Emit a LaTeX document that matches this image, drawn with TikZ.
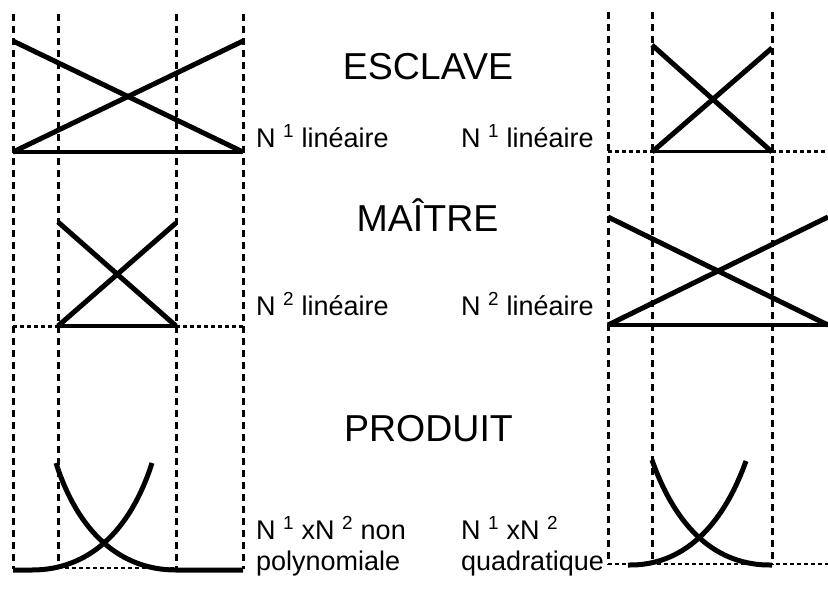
\documentclass[tikz,border=0pt]{standalone}
\usepackage{fontspec}
\setmainfont{Liberation Sans}
\begin{document}
\begin{tikzpicture}[x=1pt,y=-1pt,
  guide/.style={line width=3pt,dash pattern=on 7pt off 5pt},
  dotline/.style={line width=2.4pt,dash pattern=on 4pt off 3pt},
  thickline/.style={line width=5pt},
  baseline/.style={line width=3.5pt},
  big/.style={font=\fontsize{37.5}{40}\selectfont,inner sep=0pt},
  small/.style={font=\fontsize{27}{31}\selectfont,inner sep=0pt,anchor=base west,align=left}]
\useasboundingbox (0,0) rectangle (828,606);
% left guides
\foreach \x in {13,58,176,243} \draw[guide] (\x,14) -- (\x,569);
% right guides
\foreach \x in {608,652,772} \draw[guide] (\x,12) -- (\x,565);
% top-left X
\draw[thickline] (13,41) -- (243,152);
\draw[thickline] (13,152) -- (243,41);
\draw[baseline] (13,152) -- (243,152);
% middle-left X
\draw[thickline] (58,222) -- (176,326);
\draw[thickline] (58,326) -- (176,223);
\draw[baseline] (58,326) -- (176,326);
\draw[dotline] (13,326.5) -- (58,326.5);
\draw[dotline] (176,326.5) -- (243,326.5);
% bottom-left curves
\draw[dotline] (58,568) -- (176,568);
\draw[thickline] (56,463) .. controls (78,532) and (120,570) .. (176,570) -- (243,570);
\draw[thickline] (152,463) .. controls (130,532) and (88,570) .. (32,570) -- (13,570);
% top-right X
\draw[thickline] (652,45) -- (772,152);
\draw[thickline] (652,152) -- (772,48);
\draw[baseline] (652,151.5) -- (772,151.5);
\draw[dotline] (608,151.5) -- (652,151.5);
\draw[dotline] (772,151.5) -- (828,151.5);
% middle-right X
\draw[thickline] (608,217) -- (828,325);
\draw[thickline] (608,325) -- (828,217);
\draw[baseline] (608,325) -- (828,325);
% bottom-right curves
\draw[dotline] (608,564) -- (828,564);
\draw[thickline] (652,460) .. controls (676,528) and (716,566) .. (772,565);
\draw[thickline] (746,461) .. controls (722,528) and (682,566) .. (628,565);
% titles
\node[big,anchor=base] (esc) at (428,79.5) {ESCLAVE};
\node[big,anchor=base] (mai) at (427.5,231.5) {MAÎTRE};
\node[big,anchor=base] (pro) at (428.5,441.5) {PRODUIT};
% labels
\node[small] (l1) at (256,147) {N \textsuperscript{1} linéaire};
\node[small] (r1) at (461,147) {N \textsuperscript{1} linéaire};
\node[small] (l2) at (256,315) {N \textsuperscript{2} linéaire};
\node[small] (r2) at (461,315) {N \textsuperscript{2} linéaire};
\node[small] (l3) at (256,570) {N \textsuperscript{1} xN \textsuperscript{2} non\\polynomiale};
\node[small] (r3) at (461,570) {N \textsuperscript{1} xN \textsuperscript{2}\\quadratique};
\end{tikzpicture}
\end{document}
